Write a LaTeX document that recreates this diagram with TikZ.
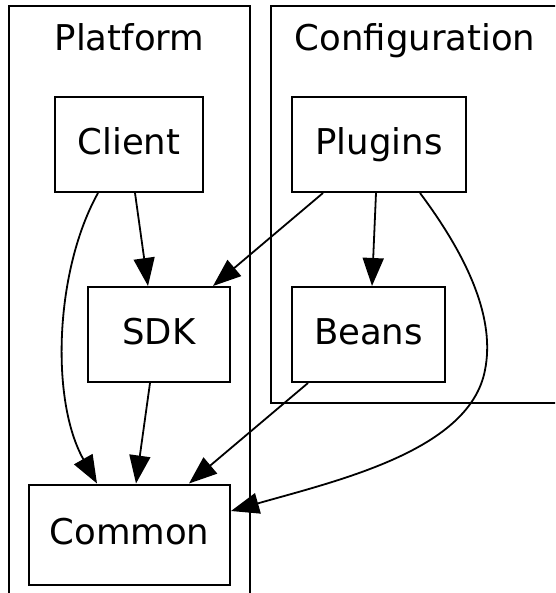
\documentclass[tikz,border=0pt]{standalone}
\usepackage{fontspec}
\setmainfont{DejaVu Sans}
\usetikzlibrary{arrows.meta,calc}
\begin{document}
\begin{tikzpicture}[x=1pt,y=-1pt,
  every node/.style={font=\fontsize{35.5}{40}\selectfont},
  module/.style={draw,line width=2pt,rectangle,inner sep=0pt,
    text height=32pt,text depth=12.5pt},
  cluster/.style={draw,line width=2pt},
  dep/.style={line width=1.8pt,-{Triangle[length=28pt,width=21pt]}}]
\useasboundingbox (0,0) rectangle (555,593);
\clip (0,0) rectangle (555,593);

% clusters
\draw[cluster] (9,6) rectangle (250,610);
\draw[cluster] (271,6) rectangle (620,403);
\node[anchor=base] (platformlbl) at (129.5,51) {Platform};
\node[anchor=base] (configlbl) at (415,51) {Configuration};

% modules
\node[module,minimum width=148pt,minimum height=95pt] (client) at (129,144.5) {Client};
\node[module,minimum width=174pt,minimum height=95pt] (plugins) at (379,144.5) {Plugins};
\node[module,minimum width=142pt,minimum height=95pt] (sdk) at (159,334.5) {SDK};
\node[module,minimum width=153pt,minimum height=95pt] (beans) at (368.5,334.5) {Beans};
\node[module,minimum width=201pt,minimum height=100pt] (common) at (129.5,534.5) {Common};

% dependencies
\draw[dep] ($(client.south)+(6,0)$) -- ($(sdk.north)+(-11,0)$);
\draw[dep] ($(client.south)+(-31,0)$) .. controls (55,270) and (50,400) .. ($(common.north)+(-32.5,0)$);
\draw[dep] ($(sdk.south)+(-9,0)$) -- ($(common.north)+(6.5,0)$);
\draw[dep] ($(plugins.south)+(-56,0)$) -- ($(sdk.north)+(54,0)$);
\draw[dep] ($(plugins.south)+(-3,0)$) -- ($(beans.north)+(3.5,0)$);
\draw[dep] ($(plugins.south)+(41,0)$) .. controls (470,260) and (495,320) .. (485,370)
  .. controls (470,450) and (340,480) .. ($(common.east)+(0,-23.5)$);
\draw[dep] ($(beans.south)+(-60.5,0)$) -- ($(common.north)+(59.5,0)$);
\end{tikzpicture}
\end{document}
